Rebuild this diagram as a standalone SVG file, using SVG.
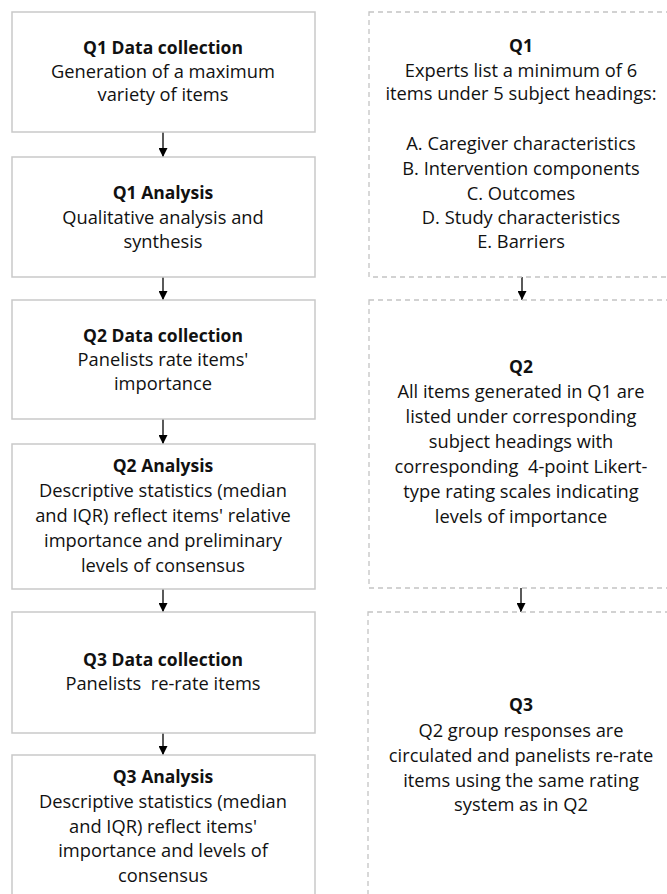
<svg xmlns="http://www.w3.org/2000/svg" width="667" height="894" viewBox="0 0 667 894">
<style>
.box{fill:#fff;stroke:#c9c9c9;stroke-width:1.5}
.dbox{fill:#fff;stroke:#c4c4c4;stroke-width:1.3;stroke-dasharray:5,4}
text{font-family:"Open Sans","Liberation Sans",Arial,sans-serif;font-size:18.3px;fill:#111;text-anchor:middle;white-space:pre}
.b{font-weight:bold;font-size:17.5px}
.con{stroke:#000;stroke-width:1.3;fill:none;marker-end:url(#ah)}
</style>
<defs>
<marker id="ah" viewBox="0 0 10 10" refX="10" refY="5" markerWidth="9" markerHeight="9" markerUnits="userSpaceOnUse" orient="auto">
<path d="M0,0 L10,5 L0,10 z" fill="#000"/>
</marker>
</defs>
<rect width="667" height="894" fill="#fff"/>
<g id="connectors">
<line class="con" x1="163" y1="132" x2="163" y2="157"/>
<line class="con" x1="163" y1="277" x2="163" y2="300"/>
<line class="con" x1="163" y1="419" x2="163" y2="444"/>
<line class="con" x1="163" y1="589" x2="163" y2="612"/>
<line class="con" x1="163" y1="733" x2="163" y2="755"/>
<line class="con" x1="522" y1="277" x2="522" y2="300"/>
<line class="con" x1="521" y1="588" x2="521" y2="612"/>
</g>
<g id="q1dc">
<rect class="box" x="12" y="12" width="303" height="120"/>
<text x="163" y="54" class="b">Q1 Data collection</text>
<text x="163" y="78">Generation of a maximum</text>
<text x="163" y="101">variety of items</text>
</g>
<g id="q1an">
<rect class="box" x="12" y="157" width="303" height="120"/>
<text x="163" y="199" class="b">Q1 Analysis</text>
<text x="163" y="224">Qualitative analysis and</text>
<text x="163" y="248">synthesis</text>
</g>
<g id="q2dc">
<rect class="box" x="12" y="300" width="303" height="119"/>
<text x="163" y="342" class="b">Q2 Data collection</text>
<text x="163" y="366">Panelists rate items'</text>
<text x="163" y="390">importance</text>
</g>
<g id="q2an">
<rect class="box" x="12" y="444" width="303" height="145"/>
<text x="163" y="472" class="b">Q2 Analysis</text>
<text x="163" y="497">Descriptive statistics (median</text>
<text x="163" y="522">and IQR) reflect items' relative</text>
<text x="163" y="547">importance and preliminary</text>
<text x="163" y="572">levels of consensus</text>
</g>
<g id="q3dc">
<rect class="box" x="12" y="612" width="303" height="121"/>
<text x="163" y="666" class="b">Q3 Data collection</text>
<text x="163" y="690">Panelists  re-rate items</text>
</g>
<g id="q3an">
<rect class="box" x="12" y="755" width="303" height="160"/>
<text x="163" y="783" class="b">Q3 Analysis</text>
<text x="163" y="808">Descriptive statistics (median</text>
<text x="163" y="833">and IQR) reflect items'</text>
<text x="163" y="857">importance and levels of</text>
<text x="163" y="882">consensus</text>
</g>
<g id="r1">
<rect class="dbox" x="369" y="12" width="304" height="265"/>
<text x="521" y="52" class="b">Q1</text>
<text x="521" y="77">Experts list a minimum of 6</text>
<text x="521" y="100">items under 5 subject headings:</text>
<text x="521" y="150">A. Caregiver characteristics</text>
<text x="521" y="175">B. Intervention components</text>
<text x="521" y="200">C. Outcomes</text>
<text x="521" y="224">D. Study characteristics</text>
<text x="521" y="248">E. Barriers</text>
</g>
<g id="r2">
<rect class="dbox" x="369" y="300" width="304" height="288"/>
<text x="521" y="373" class="b">Q2</text>
<text x="521" y="398">All items generated in Q1 are</text>
<text x="521" y="423">listed under corresponding</text>
<text x="521" y="448">subject headings with</text>
<text x="521" y="473">corresponding  4-point Likert-</text>
<text x="521" y="498">type rating scales indicating</text>
<text x="521" y="523">levels of importance</text>
</g>
<g id="r3">
<rect class="dbox" x="368" y="612" width="305" height="300"/>
<text x="521" y="711" class="b">Q3</text>
<text x="521" y="737">Q2 group responses are</text>
<text x="521" y="762">circulated and panelists re-rate</text>
<text x="521" y="787">items using the same rating</text>
<text x="521" y="811">system as in Q2</text>
</g>
</svg>
